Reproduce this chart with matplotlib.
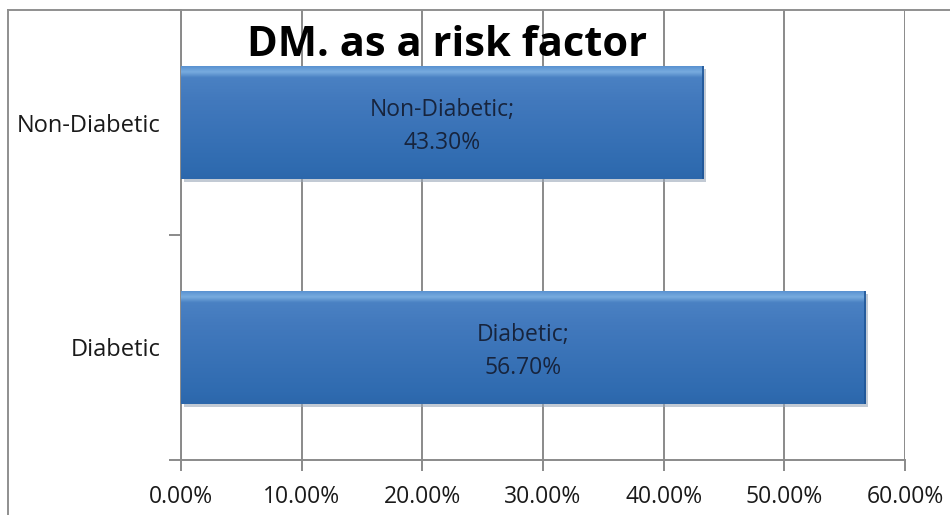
import numpy as np
import matplotlib
matplotlib.use("Agg")
import matplotlib.pyplot as plt
from matplotlib.colors import LinearSegmentedColormap
from matplotlib.lines import Line2D
from matplotlib import patheffects as pe
from matplotlib.ticker import FixedLocator

categories = ["Diabetic", "Non-Diabetic"]
values = [56.70, 43.30]
x_ticks = [0, 10, 20, 30, 40, 50, 60]
x_tick_labels = ["0.00%", "10.00%", "20.00%", "30.00%", "40.00%", "50.00%", "60.00%"]
title = "DM. as a risk factor"

plt.rcParams["font.family"] = ["Open Sans", "DejaVu Sans"]

W, H = 950, 515
fig = plt.figure(figsize=(W / 100, H / 100), dpi=100)
fig.patch.set_facecolor("white")

ax = fig.add_axes([181 / W, 1 - 460 / H, (905 - 181) / W, (460 - 10) / H])
ax.set_xlim(0, 60)
ax.set_ylim(-0.5, 1.5)

grid_col = "#8a8a8a"
label_kw = dict(fontsize=16.5, color="#1a1a1a")
ax.set_xticks(x_ticks)
ax.set_xticklabels(x_tick_labels, **label_kw)
ax.xaxis.grid(True, color=grid_col, linewidth=1.4)
ax.set_axisbelow(True)

ypos = np.arange(len(categories))
ax.set_yticks(ypos)
ax.set_yticklabels(categories, fontsize=17, color="#1a1a1a")
ax.yaxis.set_minor_locator(FixedLocator([-0.5, 0.5, 1.5]))
ax.tick_params(axis="y", which="major", length=0, pad=15)
ax.tick_params(axis="y", which="minor", length=9, width=1.4, color=grid_col)
ax.tick_params(axis="x", which="major", length=8, width=1.4, color=grid_col, pad=10)

for side in ("top", "right"):
    ax.spines[side].set_visible(False)
for side in ("left", "bottom"):
    ax.spines[side].set_color(grid_col)
    ax.spines[side].set_linewidth(1.4)

bars = ax.barh(ypos, values, height=0.5, color="#3b75bb", edgecolor="none", zorder=3,
               path_effects=[pe.SimplePatchShadow(offset=(2, -2), shadow_rgbFace="#9aa7b8", alpha=0.6),
                             pe.Normal()])

# vertical gradient fill for each bar
cmap = LinearSegmentedColormap.from_list(
    "bevel", [(0.0, "#2c67ab"), (0.1, "#2f6bb0"), (0.7, "#4279bd"), (0.9, "#4a81c3"),
              (0.95, "#78acdf"), (1.0, "#5a92d1")])
grad = np.linspace(0, 1, 256).reshape(-1, 1)
for b in bars:
    x0, y0 = b.get_x(), b.get_y()
    w, h = b.get_width(), b.get_height()
    im = ax.imshow(grad, cmap=cmap, origin="lower", aspect="auto",
                   extent=(x0, x0 + w, y0, y0 + h), zorder=4, interpolation="bilinear")
    im.set_clip_path(b)
    ax.plot([x0 + w, x0 + w], [y0, y0 + h], color="#1f5596", linewidth=1.2, zorder=5,
            solid_capstyle="butt")

ax.set_xlim(0, 60)
ax.set_ylim(-0.5, 1.5)

for y, cat, v in zip(ypos, categories, values):
    ax.annotate(f"{cat};\n{v:.2f}%", xy=(v / 2, y), xytext=(0, -3), textcoords="offset points",
                ha="center", va="center", fontsize=16.5, color="#17243d", zorder=6,
                linespacing=1.5)

fig.text(447 / W, 1 - 46 / H, title, ha="center", va="center", fontsize=30,
         fontweight="bold", color="black")

# chart area frame
fig.add_artist(Line2D([8 / W, 8 / W], [0, 1 - 10 / H], transform=fig.transFigure,
                      color="#8f8f8f", linewidth=1.4))
fig.add_artist(Line2D([8 / W, 1], [1 - 10 / H, 1 - 10 / H], transform=fig.transFigure,
                      color="#8f8f8f", linewidth=1.4))

fig.savefig("out.png", dpi=100, facecolor="white")
